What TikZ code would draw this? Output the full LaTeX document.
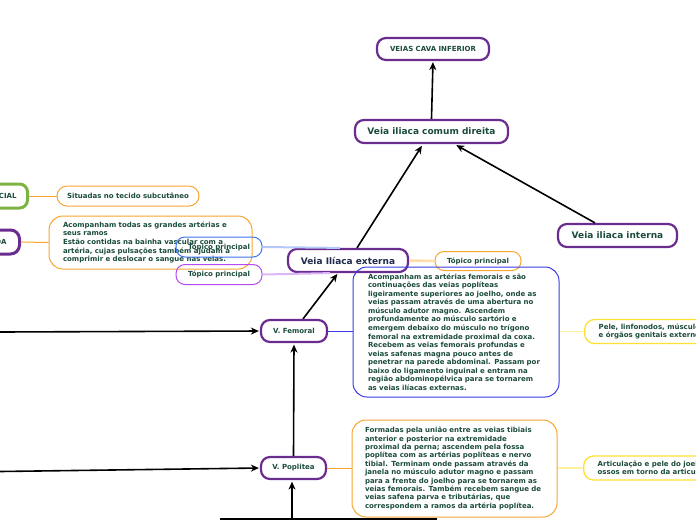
\documentclass[tikz,border=0pt]{standalone}
\usepackage{fontspec}
\setmainfont{DejaVu Sans}
\usetikzlibrary{arrows.meta}
\definecolor{txt}{HTML}{1B4B3C}
\definecolor{txtnavy}{HTML}{1E2A4A}
\definecolor{purp}{HTML}{6A2C8E}
\definecolor{grn}{HTML}{7CB342}
\definecolor{orng}{HTML}{F7A531}
\definecolor{bigblue}{HTML}{3B3BE6}
\definecolor{tblue}{HTML}{3F73F5}
\definecolor{tmag}{HTML}{B549F2}
\definecolor{yel}{HTML}{FFE033}
\definecolor{lblue}{HTML}{B4C8FA}
\definecolor{lmag}{HTML}{DDB6F5}
\definecolor{lorng}{HTML}{FFDCA8}
\definecolor{lyel}{HTML}{FFF0A0}
\begin{document}
\begin{tikzpicture}[x=1pt,y=-1pt,
  smallf/.style={font=\bfseries\fontsize{7}{8.55}\selectfont},
  bigf/.style={font=\bfseries\fontsize{9}{10}\selectfont},
  pbox/.style={draw=purp, line width=2.2pt, rounded corners=9pt, text=txt, inner sep=0pt, minimum height=23pt},
  topicbox/.style={line width=1pt, rounded corners=9pt, text=txt, inner sep=0pt, minimum height=20pt, minimum width=86pt, smallf},
  textbox/.style={line width=1pt, rounded corners=14pt, text=txt, inner ysep=0pt, align=left, smallf},
  sidebox/.style={draw=yel, line width=1.3pt, rounded corners=10pt, text=txt, inner ysep=0pt, minimum height=24pt, align=left, anchor=west, smallf, font=\bfseries\fontsize{7}{8.2}\selectfont},
  arr/.style={-{Stealth[length=8pt,width=7pt,inset=2.5pt]}, line width=1.6pt, black},
  thinlink/.style={line width=1pt}
]
\useasboundingbox (0,0) rectangle (696,520);
\clip (0,0) rectangle (696,520);

% main purple nodes
\node[pbox, smallf, minimum width=112pt, minimum height=22pt] (vci) at (433,49) {VEIAS CAVA INFERIOR};
\node[pbox, bigf, minimum width=153pt] (comum) at (431.5,131.5) {Veia iliaca comum direita};
\node[pbox, bigf, minimum width=119pt] (interna) at (617.5,235.5) {Veia iliaca interna};
\node[pbox, bigf, minimum width=120pt, text=txtnavy] (externa) at (348,260.5) {Veia Ilíaca externa};
\node[pbox, smallf, minimum width=66pt, minimum height=22pt] (femoral) at (294,331) {V. Femoral};
\node[pbox, smallf, minimum width=65pt, minimum height=22pt] (poplitea) at (293.5,468) {V. Poplitea};

% left partial nodes
\node[draw=grn, line width=3pt, rounded corners=8pt, text=txt, smallf, anchor=east, minimum height=24pt, inner xsep=11pt, inner ysep=0pt] (sup) at (29,196) {CIAL};
\node[pbox, line width=3pt, smallf, anchor=east, minimum height=24pt, inner xsep=13pt] (prof) at (21,242) {DA};

% left description boxes
\node[draw=orng, line width=1pt, rounded corners=10pt, text=txt, smallf, minimum width=142pt, minimum height=20pt, inner sep=0pt] (situadas) at (128,196) {Situadas no tecido subcutâneo};
\node[textbox, draw=orng, text width=175pt, inner xsep=14pt, minimum height=53pt] (acomp) at (150.5,242.5) {Acompanham todas as grandes artérias e\\seus ramos\\Estão contidas na bainha vascular com a\\artéria, cujas pulsações também ajudam a\\comprimir e deslocar o sangue nas veias.};

% topic boxes
\node[topicbox, draw=tblue] (tp1) at (219,247) {Tópico principal};
\node[topicbox, draw=tmag] (tp2) at (219,274.5) {Tópico principal};
\node[topicbox, draw=orng, minimum height=19pt] (tp3) at (478,261) {Tópico principal};

% big text boxes
\node[textbox, draw=bigblue, text width=176pt, inner xsep=15pt, minimum height=130pt] (femtext) at (456,332) {Acompanham as artérias femorais e são\\continuações das veias poplíteas\\ligeiramente superiores ao joelho, onde as\\veias passam através de uma abertura no\\músculo adutor magno. Ascendem\\profundamente ao músculo sartório e\\emergem debaixo do músculo no trígono\\femoral na extremidade proximal da coxa.\\Recebem as veias femorais profundas e\\veias safenas magna pouco antes de\\penetrar na parede abdominal. Passam por\\baixo do ligamento inguinal e entram na\\região abdominopélvica para se tornarem\\as veias ilíacas externas.};
\node[textbox, draw=orng, text width=179pt, inner xsep=13pt, minimum height=97pt, font=\bfseries\fontsize{7}{8.35}\selectfont] (poptext) at (454.5,468.5) {Formadas pela união entre as veias tibiais\\anterior e posterior na extremidade\\proximal da perna; ascendem pela fossa\\poplítea com as artérias poplíteas e nervo\\tibial. Terminam onde passam através da\\janela no músculo adutor magno e passam\\para a frente do joelho para se tornarem as\\veias femorais. Também recebem sangue de\\veias safena parva e tributárias, que\\correspondem a ramos da artéria poplítea.};

% right side boxes (cut by the page edge)
\node[sidebox, inner xsep=14pt] (pele) at (584,331.5) {Pele, linfonodos, músculo\\e órgãos genitais externo};
\node[sidebox, inner xsep=14pt] (artic) at (583,468) {Articulação e pele do joel\\ossos em torno da articul};

% thin coloured links
\draw[thinlink, orng] (sup.east) -- (situadas.west);
\draw[thinlink, orng] (prof.east) -- (acomp.west);
\draw[line width=2pt, lblue] (tp1.east) -- ([xshift=-8pt]externa.north);
\draw[line width=2pt, lmag] (tp2.east) -- ([xshift=-18pt]externa.south);
\draw[line width=2.5pt, lorng] (externa.east) -- (tp3.west);
\draw[thinlink, bigblue] (femoral.east) -- (femoral.east -| femtext.west);
\draw[line width=1.5pt, lyel] (femtext.east |- pele.west) -- (pele.west);
\draw[thinlink, orng] (poplitea.east) -- (poplitea.east -| poptext.west);
\draw[line width=1.5pt, lyel] (poptext.east |- artic.west) -- (artic.west);

% black arrows
\draw[arr, shorten >=1pt] (comum.north) -- (vci.south);
\draw[arr, shorten >=2pt] ([xshift=9pt]externa.north) -- ([xshift=-8.5pt]comum.south);
\draw[arr, shorten >=2pt] ([xshift=-22.5pt]interna.north) -- ([xshift=23pt]comum.south);
\draw[arr, shorten >=1pt] ([xshift=9pt]femoral.north) -- ([xshift=-10pt]externa.south);
\draw[arr, shorten >=1.5pt] (poplitea.north) -- (femoral.south);
\coordinate (lf) at (0,332);
\coordinate (lp) at (0,471.5);
\draw[arr, shorten >=1pt] (lf) -- (femoral.west);
\draw[arr, shorten >=1pt] (lp) -- (poplitea.west);
\coordinate (bl) at (220,519);
\coordinate (br) at (437,519);
\coordinate (bm) at (292,519);
\draw[line width=2pt] (bl) -- (br);
\draw[arr, shorten >=1.5pt] (bm) -- (bm |- poplitea.south);
\end{tikzpicture}
\end{document}
